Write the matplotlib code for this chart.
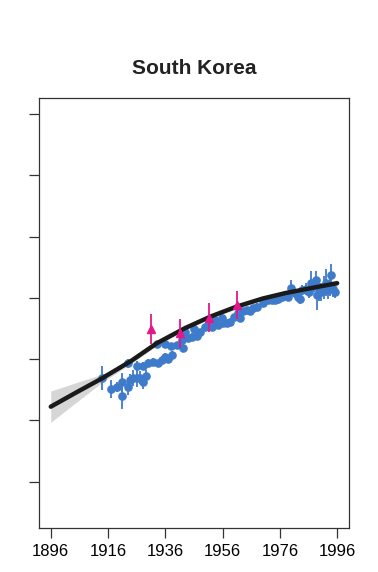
import numpy as np
import matplotlib
matplotlib.use('Agg')
import matplotlib.pyplot as plt

plt.rcParams['font.family'] = ['Liberation Sans', 'DejaVu Sans']

# blue observations (year, value, error)
obs_year = [1914.0, 1917.0, 1919.0, 1921.0, 1921.0, 1923.1, 1923.1, 1923.7, 1924.8, 1926.0,
            1926.0, 1927.2, 1928.1, 1928.3, 1929.1, 1930.1, 1931.8, 1933.0, 1933.6, 1934.7,
            1935.9, 1935.9, 1937.0, 1937.9, 1938.2, 1940.0, 1941.7, 1942.0, 1942.9, 1944.0,
            1945.2, 1946.0, 1946.9, 1948.1, 1949.8, 1951.0, 1952.2, 1953.3, 1954.5, 1955.7,
            1956.2, 1957.4, 1958.6, 1960.0, 1961.5, 1962.0, 1963.2, 1964.4, 1965.5, 1966.7,
            1967.9, 1970.2, 1971.9, 1973.1, 1974.3, 1975.4, 1976.6, 1977.7, 1978.9, 1980.0,
            1981.2, 1982.4, 1983.2, 1983.9, 1985.1, 1986.2, 1987.0, 1987.9, 1988.6, 1989.0,
            1989.7, 1990.5, 1991.3, 1992.0, 1992.9, 1993.4, 1994.0, 1994.4, 1995.2]
obs_val = [36.9, 35.1, 35.5, 36.2, 34.0, 39.3, 35.4, 36.6, 36.9, 38.9,
           36.9, 37.0, 38.9, 36.3, 37.3, 39.4, 39.6, 42.5, 39.3, 39.9,
           42.5, 40.4, 40.1, 42.2, 40.7, 42.3, 43.1, 41.9, 44.5, 43.4,
           43.7, 45.0, 43.8, 44.5, 45.2, 45.6, 45.3, 46.4, 45.6, 46.7,
           45.9, 45.9, 46.1, 46.9, 47.5, 46.7, 47.8, 48.0, 47.8, 48.3,
           48.6, 49.1, 49.6, 49.7, 49.6, 49.9, 50.2, 50.5, 50.2, 51.6,
           50.8, 50.2, 49.8, 51.3, 51.4, 51.0, 52.4, 52.1, 52.9, 50.5,
           51.3, 51.0, 51.7, 52.5, 51.3, 51.8, 53.8, 51.4, 51.0]
obs_err = [2.0, 1.5, 0.8, 1.5, 2.2, 0.8, 1.2, 1.0, 1.3, 0.8,
           1.5, 1.0, 0.6, 1.2, 0.9, 0.6, 0.6, 0.5, 0.6, 0.6,
           0.5, 0.6, 0.6, 0.5, 0.6, 0.5, 0.5, 0.8, 0.5, 0.6,
           0.5, 0.5, 0.6, 0.5, 0.5, 0.5, 0.5, 0.5, 0.5, 0.5,
           0.5, 0.5, 0.5, 0.5, 0.5, 0.5, 0.5, 0.5, 0.5, 0.5,
           0.5, 0.5, 0.5, 0.5, 0.5, 0.5, 0.5, 0.5, 0.5, 1.4,
           0.6, 0.8, 0.8, 0.8, 1.0, 1.0, 2.0, 1.2, 1.5, 2.5,
           1.8, 1.5, 1.8, 2.2, 1.5, 1.5, 1.8, 1.2, 1.0]

# pink triangles
tri_year = [1931.0, 1941.1, 1951.1, 1961.1]
tri_val = [44.9, 44.2, 46.8, 48.9]
tri_err = [2.4, 2.3, 2.3, 2.3]

# fitted curve and band half width
fit_year = [1896, 1905, 1914, 1924, 1933, 1943, 1952, 1961, 1970, 1978, 1988, 1996]
fit_val = [32.25, 34.6, 36.9, 39.7, 42.6, 45.1, 47.0, 48.6, 49.9, 50.8, 51.7, 52.4]
fit_half = [2.55, 1.6, 0.65, 0.45, 0.4, 0.35, 0.35, 0.35, 0.35, 0.35, 0.4, 0.55]

xticks = [1896, 1916, 1936, 1956, 1976, 1996]
yticks = [20, 30, 40, 50, 60, 70, 80]

blue = '#3F7BCB'
pink = '#E5168A'

fig = plt.figure(figsize=(3.78, 5.72), dpi=100)
ax = fig.add_axes([0.104, 0.0774, 0.819, 0.751])

fv = np.array(fit_val)
fh = np.array(fit_half)
ax.fill_between(fit_year, fv - fh, fv + fh, color='#d6d6d6', lw=0, zorder=1)

ax.errorbar(obs_year, obs_val, yerr=obs_err, fmt='o', color=blue, ms=5.2,
            elinewidth=1.3, capsize=0, zorder=2)
ax.plot(fit_year, fit_val, color='#1a1a1a', lw=3.2, solid_capstyle='round', zorder=3)
ax.errorbar(tri_year, tri_val, yerr=tri_err, fmt='^', color=pink, ms=5.5,
            elinewidth=1.3, capsize=0, zorder=4)

ax.set_xlim(1892, 2000.1)
ax.set_ylim(12.5, 82.6)
ax.set_xticks(xticks)
ax.set_xticklabels([str(x) for x in xticks])
ax.set_yticks(yticks)
ax.set_yticklabels([])
ax.tick_params(direction='out', length=7, width=0.9, colors='#333333',
               labelsize=12, pad=5)
ax.tick_params(axis='x', labelcolor='black')
for s in ax.spines.values():
    s.set_linewidth(0.9)
    s.set_color('#333333')

fig.text(0.514, 0.88, 'South Korea', ha='center', va='center',
         fontsize=15, fontweight='bold', color='#222222')

fig.savefig('out.png', dpi=100)
